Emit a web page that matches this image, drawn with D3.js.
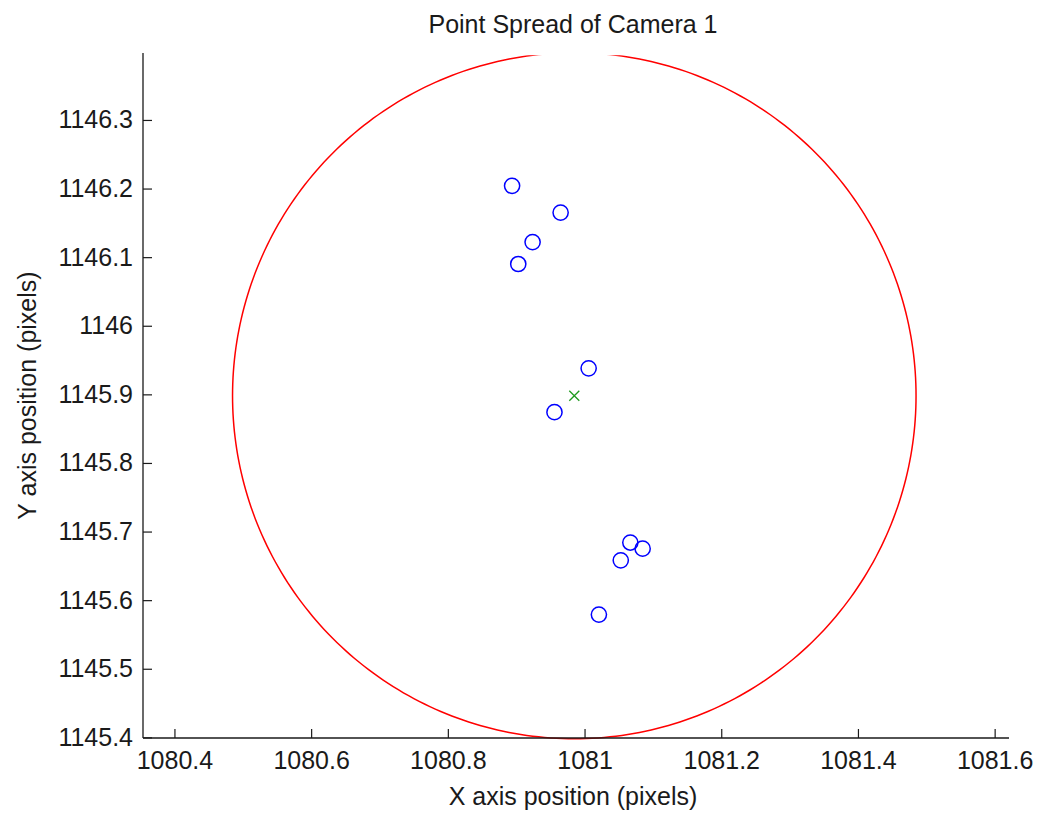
<!DOCTYPE html>
<html>
<head>
<meta charset="utf-8">
<script src="https://cdn.jsdelivr.net/npm/d3@7"></script>
<style>
  html, body { margin: 0; padding: 0; background: #ffffff; }
  svg { display: block; }
  text { font-family: "Liberation Sans", Arial, sans-serif; fill: #1a1a1a; }
</style>
</head>
<body>
<svg id="chart" width="1041" height="813"></svg>
<script>
// ---- data ----
const title = "Point Spread of Camera 1";
const xLabel = "X axis position (pixels)";
const yLabel = "Y axis position (pixels)";
const pointsX = [1080.894, 1080.965, 1080.924, 1080.903, 1081.006, 1080.956, 1081.067, 1081.085, 1081.053, 1081.021];
const pointsY = [1146.204, 1146.165, 1146.122, 1146.090, 1145.938, 1145.874, 1145.684, 1145.675, 1145.658, 1145.579];
const centerX = [1080.985];
const centerY = [1145.898];
const circleRadius = [0.5];
const xTicks = [1080.4, 1080.6, 1080.8, 1081, 1081.2, 1081.4, 1081.6];
const yTicks = [1145.4, 1145.5, 1145.6, 1145.7, 1145.8, 1145.9, 1146, 1146.1, 1146.2, 1146.3];
const xDomain = [1080.354, 1081.621];
const yDomain = [1145.3976, 1146.3976];

// ---- layout ----
const plot = { left: 143, right: 1009, top: 53, bottom: 738 };
const svg = d3.select("#chart");
const x = d3.scaleLinear().domain(xDomain).range([plot.left, plot.right]);
const y = d3.scaleLinear().domain(yDomain).range([739, 53]);
const fmt = d => d3.format("")(+d.toFixed(1));
const fontSize = 25;

// clip region (the circle just touches the top of the axes and is cut there)
const clipTop = 55.3;
svg.append("defs").append("clipPath").attr("id", "clip")
  .append("rect").attr("x", plot.left).attr("y", clipTop)
  .attr("width", plot.right - plot.left).attr("height", 760 - clipTop);

// ---- red circle ----
const angles = d3.range(0, 361, 1);
const circlePts = angles.map(a => [
  centerX[0] + circleRadius[0] * Math.cos(a * Math.PI / 180),
  centerY[0] + circleRadius[0] * Math.sin(a * Math.PI / 180)
]);
svg.append("path")
  .attr("clip-path", "url(#clip)")
  .attr("d", d3.line().x(d => x(d[0])).y(d => y(d[1]))(circlePts))
  .attr("fill", "none").attr("stroke", "#ff0000").attr("stroke-width", 1.5);

// ---- axes ----
const xAxis = d3.axisBottom(x).tickValues(xTicks).tickSize(-9).tickPadding(13).tickFormat(fmt);
const yAxis = d3.axisLeft(y).tickValues(yTicks).tickSize(-9).tickPadding(10).tickFormat(fmt);

const gx = svg.append("g").attr("transform", `translate(0,${plot.bottom})`).call(xAxis);
gx.select(".domain").remove();
gx.append("line").attr("x1", plot.left).attr("x2", plot.right).attr("y1", 0).attr("y2", 0)
  .attr("stroke", "#1a1a1a").attr("stroke-width", 1.3);
gx.selectAll(".tick line").attr("stroke", "#1a1a1a").attr("stroke-width", 1.2);
gx.selectAll(".tick text").attr("font-size", fontSize).attr("fill", "#1a1a1a")
  .attr("font-family", "Liberation Sans, Arial, sans-serif");

const gy = svg.append("g").attr("transform", `translate(${plot.left},0)`).call(yAxis);
gy.select(".domain").remove();
gy.append("line").attr("x1", 0).attr("x2", 0).attr("y1", plot.top).attr("y2", plot.bottom)
  .attr("stroke", "#1a1a1a").attr("stroke-width", 1.3);
gy.selectAll(".tick line").attr("stroke", "#1a1a1a").attr("stroke-width", 1.2);
gy.selectAll(".tick text").attr("font-size", fontSize).attr("fill", "#1a1a1a")
  .attr("font-family", "Liberation Sans, Arial, sans-serif");

// ---- points ----
const pts = pointsX.map((v, i) => ({ x: v, y: pointsY[i] }));
svg.append("g").selectAll("circle").data(pts).join("circle")
  .attr("cx", d => x(d.x)).attr("cy", d => y(d.y)).attr("r", 7.6)
  .attr("fill", "none").attr("stroke", "#0000ff").attr("stroke-width", 1.5);

// ---- centre marker ----
const cx = x(centerX[0]), cy = y(centerY[0]);
const s = 5;
svg.append("path")
  .attr("d", `M${cx - s},${cy - s}L${cx + s},${cy + s}M${cx - s},${cy + s}L${cx + s},${cy - s}`)
  .attr("stroke", "#1e9a1e").attr("stroke-width", 1.3).attr("fill", "none");

// ---- labels ----
svg.append("text").attr("x", (plot.left + plot.right) / 2 - 3).attr("y", 33)
  .attr("text-anchor", "middle").attr("font-size", fontSize).text(title);
svg.append("text").attr("x", (plot.left + plot.right) / 2 - 3).attr("y", 805)
  .attr("text-anchor", "middle").attr("font-size", fontSize).text(xLabel);
svg.append("text").attr("transform", `translate(36,${(plot.top + plot.bottom) / 2}) rotate(-90)`)
  .attr("text-anchor", "middle").attr("font-size", fontSize).text(yLabel);
</script>
</body>
</html>
